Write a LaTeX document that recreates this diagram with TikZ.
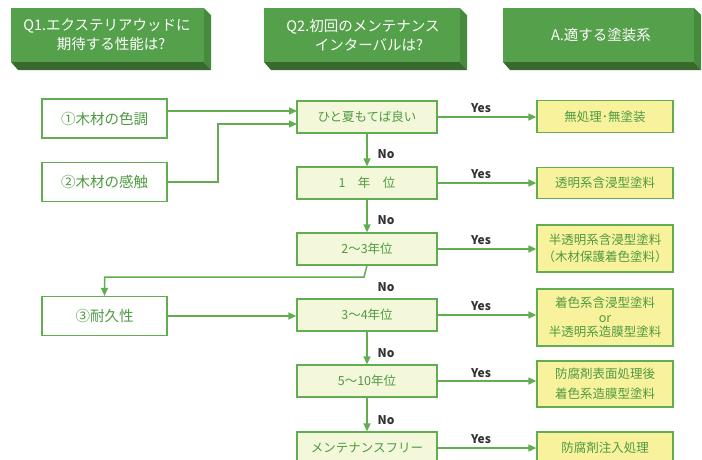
\documentclass[tikz,border=0pt]{standalone}
\usepackage{fontspec}
\setmainfont{Noto Sans CJK JP}
\usetikzlibrary{arrows.meta}
\definecolor{hfront}{HTML}{55A04B}
\definecolor{hside}{HTML}{468A3C}
\definecolor{hbottom}{HTML}{386A2E}
\definecolor{lgreen}{HTML}{62AC52}
\definecolor{tgreen}{HTML}{4E9A42}
\definecolor{midfill}{HTML}{F4F8DA}
\definecolor{ansfill}{HTML}{F8F29C}
\definecolor{lblgray}{HTML}{333333}
\begin{document}
\begin{tikzpicture}[x=1pt,y=-1pt,
  qbox/.style={draw=lgreen, line width=1.2pt, fill=white, minimum width=125pt, minimum height=39pt, inner sep=0pt, text=tgreen, font=\fontsize{14.5}{17}\selectfont},
  ybox/.style={draw=lgreen, line width=1.2pt, fill=midfill, minimum width=140pt, minimum height=32pt, inner sep=0pt, text=tgreen, font=\fontsize{12.5}{15}\selectfont},
  abox/.style={draw=lgreen, line width=1.2pt, fill=ansfill, minimum width=136pt, inner sep=0pt, text=tgreen, align=center},
  conn/.style={draw=lgreen, line width=1.5pt, -{Triangle[length=8pt,width=7pt]}},
  lbl/.style={text=lblgray, font=\bfseries\fontsize{12}{14}\selectfont, inner sep=0pt},
  htext/.style={text=white, align=center, font=\fontsize{14.5}{19}\selectfont, inner sep=0pt}
]
\clip (0,0) rectangle (702,459);
% header boxes
\fill[hfront] (11,8) rectangle (204,62);
\fill[hside] (204,8) -- (211,15) -- (211,70) -- (204,62) -- cycle;
\fill[hbottom] (11,62) -- (204,62) -- (211,70) -- (18,70) -- cycle;
\node[htext] (h1) at (107,35) {Q1.エクステリアウッドに\\\hspace{8pt}期待する性能は?};
\fill[hfront] (264,8) rectangle (460,62);
\fill[hside] (460,8) -- (467,15) -- (467,70) -- (460,62) -- cycle;
\fill[hbottom] (264,62) -- (460,62) -- (467,70) -- (271,70) -- cycle;
\node[htext] (h2) at (363,35) {Q2.初回のメンテナンス\\\hspace{12pt}インターバルは?};
\fill[hfront] (503,8) rectangle (694,62);
\fill[hside] (694,8) -- (701,15) -- (701,70) -- (694,62) -- cycle;
\fill[hbottom] (503,62) -- (694,62) -- (701,70) -- (510,70) -- cycle;
\node[htext] (h3) at (601,35) {A.適する塗装系};
% left boxes
\node[qbox] (q1) at (104.5,118.5) {①木材の色調};
\node[qbox] (q2) at (104.5,182) {②木材の感触};
\node[qbox] (q3) at (104.5,316) {③耐久性};
% middle boxes
\node[ybox] (m1) at (367,117) {ひと夏もてば良い};
\node[ybox] (m2) at (367,183) {1　年　位};
\node[ybox] (m3) at (367,249) {2〜3年位};
\node[ybox] (m4) at (367,315) {3〜4年位};
\node[ybox] (m5) at (367,381) {5〜10年位};
\node[ybox] (m6) at (367,448) {メンテナンスフリー};
% answer boxes
\node[abox, minimum height=31.5pt, font=\fontsize{12.5}{15}\selectfont] (a1) at (605,116.5) {無処理･無塗装};
\node[abox, minimum height=31.5pt, font=\fontsize{12.5}{15}\selectfont] (a2) at (605,183) {透明系含浸型塗料};
\node[abox, minimum height=47pt, font=\fontsize{12.5}{16.5}\selectfont] (a3) at (605,248.5) {半透明系含浸型塗料\\（木材保護着色塗料）};
\node[abox, minimum height=57pt, font=\fontsize{12.5}{14.5}\selectfont] (a4) at (605,317.5) {着色系含浸型塗料\\or\\半透明系造膜型塗料};
\node[abox, minimum height=46pt, font=\fontsize{12.5}{20}\selectfont] (a5) at (605,384) {防腐剤表面処理後\\着色系造膜型塗料};
\node[abox, minimum height=32pt, font=\fontsize{12.5}{15}\selectfont] (a6) at (605,448) {防腐剤注入処理};
% left connectors
\coordinate (q1o) at (167,111);
\coordinate (m1a) at (297,111);
\coordinate (m1b) at (297,124);
\coordinate (bend) at (218,124);
\draw[conn] (q1o) -- (m1a);
\draw[conn] (q2.east) -| (bend) -- (m1b);
\coordinate (turn) at (364,277);
\draw[conn] (m3.south) -- (turn) -| (q3.north);
\draw[conn] (q3.east) -- (q3.east -| m4.west);
% No connectors
\draw[conn] (m1.south) -- (m2.north);
\draw[conn] (m2.south) -- (m3.north);
\draw[conn] (m4.south) -- (m5.north);
\draw[conn] (m5.south) -- (m6.north);
% Yes connectors
\foreach \i in {1,...,6} {
  \draw[conn] (m\i.east) -- (m\i.east -| a\i.west);
}
% labels
\node[lbl] (y1) at (481,108) {Yes};
\node[lbl] (y2) at (481,174) {Yes};
\node[lbl] (y3) at (481,240) {Yes};
\node[lbl] (y4) at (481,306) {Yes};
\node[lbl] (y5) at (481,373) {Yes};
\node[lbl] (y6) at (481,439) {Yes};
\node[lbl] (n1) at (386,154) {No};
\node[lbl] (n2) at (386,220) {No};
\node[lbl] (n3) at (386,287) {No};
\node[lbl] (n4) at (386,353) {No};
\node[lbl] (n5) at (386,420) {No};
\end{tikzpicture}
\end{document}
